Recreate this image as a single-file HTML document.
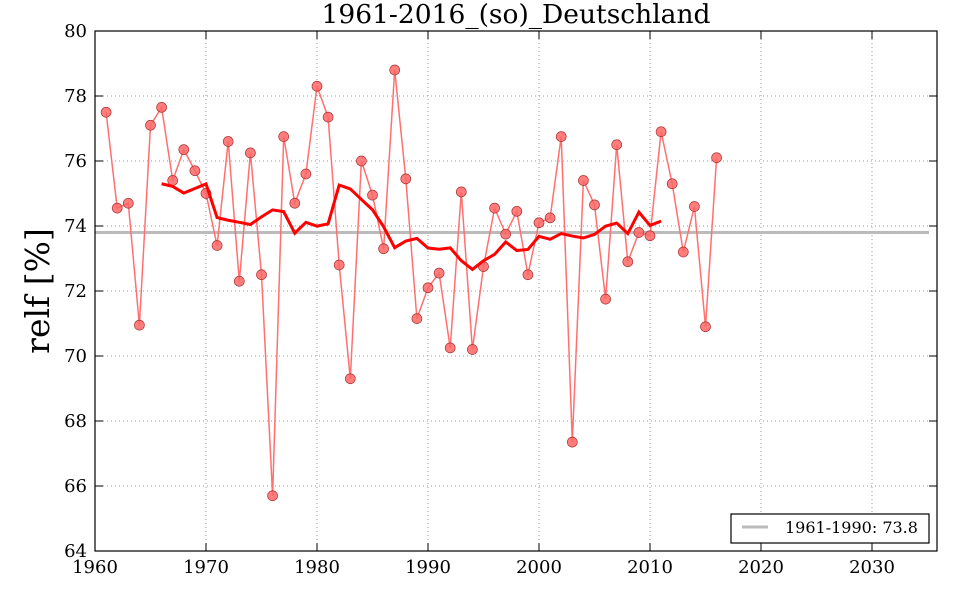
<!DOCTYPE html>
<html><head><meta charset="utf-8"><style>
body{margin:0;background:#fff;width:960px;height:600px;overflow:hidden}
svg text{font-family:"DejaVu Serif","Liberation Serif",serif}
</style></head><body>
<svg id="s" width="960" height="600" xmlns="http://www.w3.org/2000/svg"></svg>
<script>
const d=[77.5,74.55,74.7,70.95,77.1,77.65,75.4,76.35,75.7,75.0,73.4,76.6,72.3,76.25,72.5,65.7,76.75,74.7,75.6,78.3,77.35,72.8,69.3,76.0,74.95,73.3,78.8,75.45,71.15,72.1,72.55,70.25,75.05,70.2,72.75,74.55,73.75,74.45,72.5,74.1,74.25,76.75,67.35,75.4,74.65,71.75,76.5,72.9,73.8,73.7,76.9,75.3,73.2,74.6,70.9,76.1];
const X=y=>95+(y-1960)*11.1, Y=v=>31+(80-v)*32.5;
let s='';
for(let yr=1970;yr<=2030;yr+=10)s+=`<line x1="${X(yr)}" y1="31" x2="${X(yr)}" y2="551" stroke="#999" stroke-dasharray="1,3"/>`;
for(let v=66;v<80;v+=2)s+=`<line x1="95" y1="${Y(v)}" x2="937" y2="${Y(v)}" stroke="#999" stroke-dasharray="1,3"/>`;
s+=`<line x1="95" y1="${Y(73.8)}" x2="929" y2="${Y(73.8)}" stroke="#bbb" stroke-width="3"/>`;
let p=d.map((v,i)=>X(1961+i)+','+Y(v)).join(' ');
s+=`<polyline points="${p}" fill="none" stroke="#ff7070" stroke-width="1.5"/>`;
d.forEach((v,i)=>s+=`<circle cx="${X(1961+i)}" cy="${Y(v)}" r="5" fill="#f66" fill-opacity="0.85" stroke="#a33" stroke-width="0.7"/>`);
let m=[];for(let i=5;i<d.length-5;i++){let t=0;for(let j=i-5;j<=i+5;j++)t+=d[j];m.push(X(1961+i)+','+Y(t/11));}
s+=`<polyline points="${m.join(' ')}" fill="none" stroke="#f00" stroke-width="3"/>`;
s+=`<rect x="95" y="31" width="842" height="520" fill="none" stroke="#000" stroke-width="1.2"/>`;
for(let yr=1960;yr<=2030;yr+=10){s+=`<line x1="${X(yr)}" y1="551" x2="${X(yr)}" y2="543" stroke="#000"/><line x1="${X(yr)}" y1="31" x2="${X(yr)}" y2="39" stroke="#000"/><text x="${X(yr)}" y="573" font-size="18" text-anchor="middle">${yr}</text>`;}
for(let v=64;v<=80;v+=2){s+=`<line x1="95" y1="${Y(v)}" x2="103" y2="${Y(v)}" stroke="#000"/><line x1="937" y1="${Y(v)}" x2="929" y2="${Y(v)}" stroke="#000"/><text x="87" y="${Y(v)+6}" font-size="18" text-anchor="end">${v}</text>`;}
s+=`<text x="516" y="23" font-size="26.5" text-anchor="middle">1961-2016_(so)_Deutschland</text>`;
s+=`<text transform="translate(49,291) rotate(-90)" font-size="33" text-anchor="middle">relf [%]</text>`;
s+=`<rect x="731" y="514" width="198" height="29" fill="#fff" stroke="#000" stroke-width="1.2"/><line x1="742" y1="527" x2="768" y2="527" stroke="#bbb" stroke-width="3"/><text x="785" y="533" font-size="16">1961-1990: 73.8</text>`;
document.getElementById('s').innerHTML=s;
</script>
</body></html>
